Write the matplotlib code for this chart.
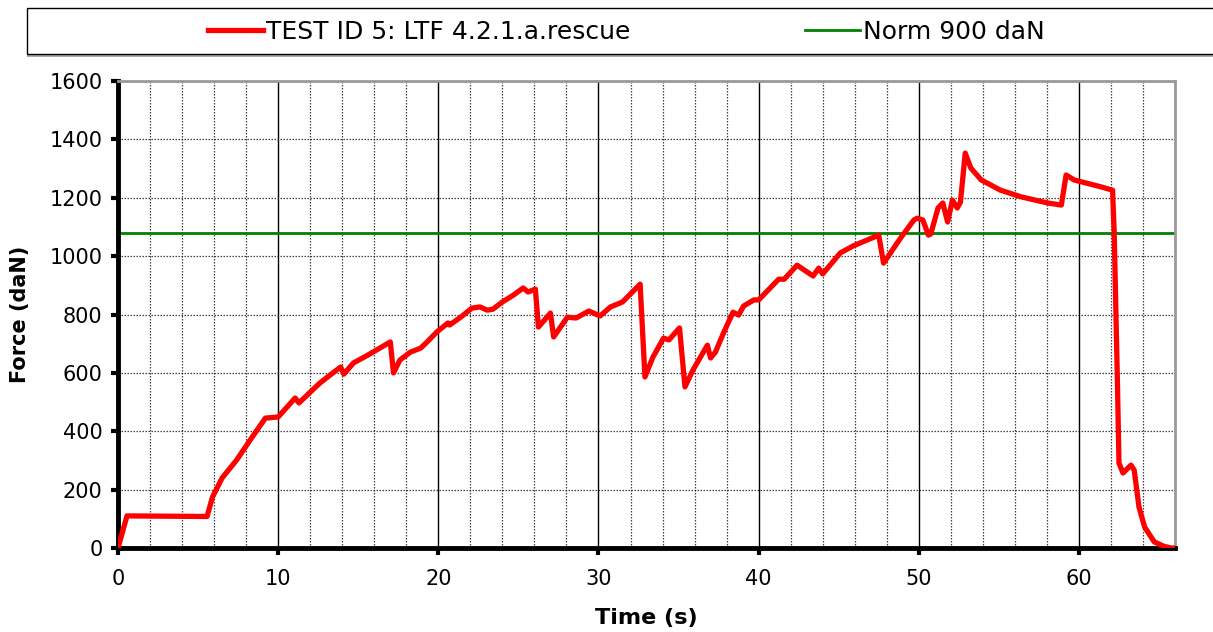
import matplotlib.pyplot as plt
from matplotlib.patches import Rectangle

# force curve
time_s = [0, 0.56, 5.56, 5.9, 6.5, 7.4, 8.25, 9.2, 10.0, 11.06, 11.3, 12.0, 12.6,
          13.25, 13.9, 14.1, 14.7, 15.6, 17.0, 17.2, 17.6, 18.25, 18.9, 19.3, 19.9,
          20.6, 20.7, 21.4, 22.1, 22.6, 23.05, 23.4, 24.0, 24.7, 25.3, 25.6, 26.06,
          26.25, 27.0, 27.2, 28.06, 28.6, 29.4, 30.1, 30.75, 31.5, 32.6, 32.9, 33.4,
          34.06, 34.4, 35.06, 35.4, 35.9, 36.8, 37.0, 37.3, 37.8, 38.4, 38.75, 39.06,
          39.7, 40.0, 40.6, 41.25, 41.6, 42.4, 43.4, 43.75, 44.0, 45.1, 45.9, 47.5,
          47.8, 48.9, 49.7, 49.9, 50.25, 50.6, 50.75, 51.2, 51.5, 51.8, 52.1, 52.4,
          52.6, 52.9, 53.25, 53.9, 55.1, 56.4, 58.06, 58.9, 59.2, 59.7, 61.4, 62.1,
          62.2, 62.4, 62.5, 62.75, 63.25, 63.45, 63.75, 64.1, 64.7, 65.3, 65.75, 66.0]
force_dan = [0, 110, 108, 175, 240, 301, 370, 445, 449, 514, 497, 534, 565,
             593, 620, 596, 634, 661, 706, 600, 644, 671, 685, 706, 740,
             771, 764, 791, 822, 826, 815, 818, 843, 867, 891, 877, 887,
             757, 805, 723, 791, 788, 812, 795, 826, 843, 904, 586, 654,
             719, 713, 754, 552, 610, 695, 651, 671, 736, 808, 798, 829,
             850, 850, 884, 921, 921, 969, 932, 959, 939, 1011, 1035, 1072,
             976, 1065, 1124, 1130, 1124, 1072, 1076, 1165, 1182, 1117, 1192, 1165,
             1185, 1353, 1302, 1261, 1226, 1203, 1182, 1175, 1278, 1261, 1237, 1226,
             1083, 576, 291, 257, 284, 267, 140, 72, 21, 6, 0, 0]
norm_level = 1080

fig = plt.figure(figsize=(12.13, 6.32), dpi=100)
ax = fig.add_axes([0.0973, 0.1329, 0.8714, 0.7389])

# grid: dotted every 2 s / 200 daN, solid every 10 s
for x in range(2, 66, 2):
    if x % 10 == 0:
        ax.axvline(x, color='black', lw=1.0, zorder=1)
    else:
        ax.axvline(x, color='black', lw=0.9, ls=(0, (1.2, 1.2)), alpha=0.75, zorder=1)
for y in range(200, 1601, 200):
    ax.axhline(y, color='black', lw=0.9, ls=(0, (1.2, 1.2)), alpha=0.75, zorder=1)

red_line, = ax.plot(time_s, force_dan, color='#ff0000', lw=3.8, zorder=3,
                    label='TEST ID 5: LTF 4.2.1.a.rescue', solid_joinstyle='round')
green_line = ax.axhline(norm_level, color='#008000', lw=2, zorder=2, label='Norm 900 daN')

ax.set_xlim(0, 66)
ax.set_ylim(0, 1600)
ax.set_xticks(range(0, 61, 10))
ax.set_yticks(range(0, 1601, 200))
ax.tick_params(axis='both', direction='out', length=5, width=3, labelsize=15,
               color='black')
ax.tick_params(axis='x', pad=10)
ax.tick_params(axis='y', pad=6)

for side in ['left', 'bottom']:
    ax.spines[side].set_linewidth(3.5)
    ax.spines[side].set_color('black')
for side in ['top', 'right']:
    ax.spines[side].set_linewidth(2)
    ax.spines[side].set_color('#999999')

ax.set_xlabel('Time (s)', fontsize=16, fontweight='bold', labelpad=14)
ax.set_ylabel('Force (daN)', fontsize=15, fontweight='bold', labelpad=14)

# legend box across the top
fig.patches.append(Rectangle((27 / 1213, 1 - 57 / 632), 1.0, 46 / 632,
                             transform=fig.transFigure, facecolor='#aaaaaa',
                             edgecolor='none', zorder=0))
fig.patches.append(Rectangle((27 / 1213, 1 - 54 / 632), 1.0, 46 / 632,
                             transform=fig.transFigure, facecolor='white',
                             edgecolor='black', lw=1, zorder=1))
fig.legend(handles=[red_line, green_line], loc='center',
           bbox_to_anchor=(0.5165, 1 - 32 / 632), ncol=2, frameon=False,
           fontsize=18, handlelength=2.2, handletextpad=0.1, columnspacing=7.0)

fig.savefig('out.png', dpi=100)
